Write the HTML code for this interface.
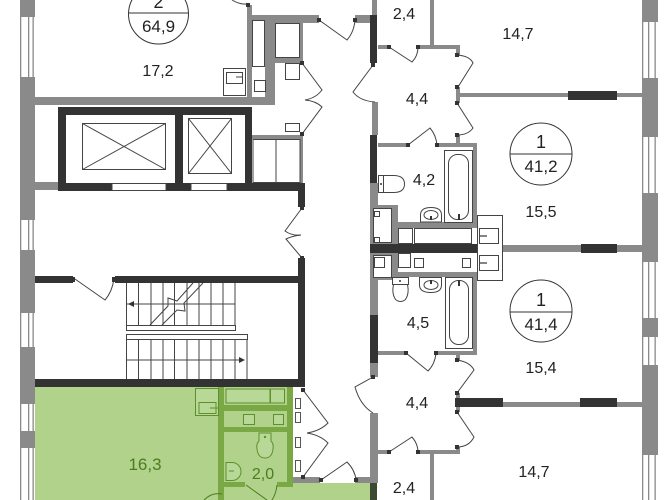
<!DOCTYPE html>
<html><head><meta charset="utf-8"><style>
html,body{margin:0;padding:0;background:#fff;}
svg{display:block;}
text{font-family:"Liberation Sans",sans-serif;}
</style></head><body>
<svg width="672" height="500" viewBox="0 0 672 500" xmlns="http://www.w3.org/2000/svg">
<rect width="672" height="500" fill="#fff"/>

<!-- GREEN APARTMENT -->
<rect x="35" y="387" width="258" height="113" fill="#b0d28a"/>
<rect x="293" y="483" width="79" height="17" fill="#b0d28a"/>
<g fill="#7aa845">
<rect x="218" y="387" width="6" height="113"/>
<rect x="224" y="405" width="64" height="6"/>
<rect x="224" y="427" width="64" height="5"/>
<rect x="287" y="387" width="6" height="98"/>
<rect x="224" y="482" width="21" height="5"/>
<rect x="277" y="482" width="16" height="5"/>
</g>
<g fill="#b8d898" stroke="#5d8f2c" stroke-width="1">
<rect x="226" y="389" width="44" height="14"/>
<rect x="270.5" y="389" width="14" height="14"/>
<rect x="243.5" y="414.5" width="11" height="10"/>
<rect x="273.5" y="414.5" width="10" height="10"/>
<rect x="195.5" y="388.5" width="23" height="27"/>
<rect x="199" y="402.5" width="17" height="11"/>
<path d="M259,433 h12 v8 q3,3 2,8 q-1,9 -8,9 q-7,0 -8,-9 q-1,-5 2,-8 z"/>
<path d="M226,462.5 h6 a9,9 0 0 1 0,18 h-6 z"/>
</g>
<circle cx="265" cy="437" r="1.2" fill="#5d8f2c"/>
<line x1="210" y1="408" x2="218" y2="408" stroke="#5d8f2c"/>
<line x1="229" y1="471" x2="234" y2="471" stroke="#5d8f2c"/>
<g fill="none" stroke="#4d7c1f" stroke-width="1">
<path d="M246,485 L267,500"/>
<path d="M277,485 Q276,494 272,500"/>
<path d="M204,500 Q212,492 222,494"/>
</g>
<text x="145" y="470" font-size="17" fill="#4d7c1f" text-anchor="middle">16,3</text>
<text x="263" y="479" font-size="16" fill="#4d7c1f" text-anchor="middle">2,0</text>

<!-- EXTERIOR LEFT WALL -->
<g fill="#8a8a8a">
<rect x="20" y="0" width="15" height="17"/>
<rect x="20" y="77" width="15" height="143"/>
<rect x="20" y="250" width="15" height="63"/>
<rect x="20" y="347" width="15" height="57"/>
<rect x="20" y="431" width="15" height="17"/>
<rect x="20" y="0" width="1.3" height="500"/>
<rect x="28" y="0" width="1.3" height="500"/>
<rect x="32.5" y="0" width="1.3" height="500"/>
</g>
<!-- EXTERIOR RIGHT WALL -->
<g fill="#8a8a8a">
<rect x="642" y="0" width="16" height="22"/>
<rect x="642" y="78" width="16" height="59"/>
<rect x="642" y="193" width="16" height="69"/>
<rect x="642" y="318" width="16" height="19"/>
<rect x="642" y="365" width="16" height="90"/>
<rect x="642" y="0" width="1.3" height="500"/>
<rect x="648" y="0" width="1.3" height="500"/>
<rect x="654.5" y="0" width="1.3" height="500"/>
</g>

<!-- TOP LEFT APARTMENT -->
<g fill="#8a8a8a">
<rect x="35" y="97" width="240" height="8"/>
<rect x="247" y="5" width="5" height="92"/>
<rect x="247" y="15" width="72" height="8"/>
<rect x="265" y="23" width="10" height="81"/>
<rect x="300" y="23" width="3" height="40"/>
<rect x="275" y="58" width="28" height="5"/>
<rect x="355" y="15" width="15" height="8"/>
<rect x="372" y="0" width="5" height="15"/>
<rect x="35" y="182" width="23" height="8"/>
<rect x="252" y="135" width="50" height="4"/>
<rect x="300" y="135" width="3" height="48"/>
</g>
<g fill="#fff" stroke="#444" stroke-width="1">
<rect x="252.5" y="20.5" width="12" height="46"/>
<rect x="223.5" y="68.5" width="22" height="27"/>
<rect x="226.5" y="72.5" width="16" height="11"/>
<rect x="254.5" y="80.5" width="11" height="11"/>
<rect x="275.5" y="23.5" width="24" height="34"/>
<rect x="285.5" y="63.5" width="14" height="16"/>
<rect x="285.5" y="123.5" width="14" height="8"/>
<rect x="253" y="139.5" width="23" height="43"/>
<rect x="276" y="139.5" width="24" height="43"/>
</g>
<line x1="236" y1="77" x2="243" y2="77" stroke="#444"/>
<circle cx="158.5" cy="14" r="30" fill="none" stroke="#333" stroke-width="1"/>
<line x1="129" y1="13" x2="188" y2="13" stroke="#333"/>
<text x="158.5" y="8" font-size="18" fill="#222" text-anchor="middle">2</text>
<text x="158.5" y="32" font-size="17" fill="#222" text-anchor="middle">64,9</text>
<text x="158" y="76" font-size="16" fill="#222" text-anchor="middle">17,2</text>

<!-- ELEVATORS -->
<g fill="#333">
<rect x="58" y="107" width="194" height="8"/>
<rect x="58" y="107" width="8" height="84"/>
<rect x="175" y="107" width="8" height="84"/>
<rect x="245" y="107" width="7" height="84"/>
<rect x="58" y="183" width="54" height="8"/>
<rect x="166" y="183" width="25" height="8"/>
<rect x="227" y="183" width="78" height="8"/>
</g>
<g fill="none" stroke="#444" stroke-width="1">
<rect x="112" y="183.5" width="54" height="7"/>
<rect x="191" y="183.5" width="36" height="7"/>
<rect x="82.5" y="123.5" width="83" height="46"/>
<path d="M82.5,123.5 L165.5,169.5 M165.5,123.5 L82.5,169.5"/>
<rect x="188.5" y="118.5" width="43" height="55"/>
<path d="M188.5,118.5 L231.5,173.5 M231.5,118.5 L188.5,173.5"/>
</g>

<!-- LOBBY / STAIRS -->
<g fill="#333">
<rect x="298" y="183" width="7" height="24"/>
<rect x="298" y="258" width="7" height="129"/>
<rect x="35" y="276" width="38" height="7"/>
<rect x="115" y="276" width="183" height="7"/>
<rect x="35" y="379" width="270" height="8"/>
</g>
<g fill="none" stroke="#444" stroke-width="1">
<path d="M75,279 L105,300 Q112,292 114,279"/>
<path d="M126.5,283 V325 M138.5,283 V325 M151,283 V325 M163,283 V325 M174.5,283 V325 M187,283 V325 M199,283 V325 M211,283 V325 M223,283 V325 M235,283 V325"/>
<line x1="126" y1="304" x2="235" y2="304"/>
<rect x="126.5" y="325.5" width="109" height="5"/>
<rect x="126.5" y="334.5" width="121" height="5"/>
<path d="M126.5,339 V379 M138.5,339 V379 M151,339 V379 M163,339 V379 M174.5,339 V379 M187,339 V379 M199,339 V379 M211,339 V379 M223,339 V379 M235,339 V379 M247,339 V379"/>
<line x1="126" y1="360" x2="243" y2="360"/>
<path d="M150,325 L168,306 L168,298 L177,301 L193,283" fill="none"/>
<path d="M162,325 L177,310 L185,311 L184,303 L203,283" fill="none"/>
</g>
<path d="M128,304 l6,-3 v6 z" fill="#333"/>
<path d="M245,360 l-6,-3 v6 z" fill="#333"/>

<!-- corridor left doors -->
<g fill="none" stroke="#444" stroke-width="1">
<path d="M302,63 L322,90 Q316,98 305,100"/>
<path d="M302,134 L322,107 Q316,101 305,100"/>
<path d="M302,208 L285,231 Q292,236 301,235"/>
<path d="M302,258 L286,239 Q292,236 301,235"/>
<path d="M319,20 L347,40 Q354,32 355,20"/>
<path d="M232,0 Q240,5 248,4"/>
</g>
<g fill="#333">
<rect x="300" y="61" width="4" height="4"/>
<rect x="300" y="132" width="4" height="4"/>
<rect x="300" y="206" width="4" height="4"/>
<rect x="300" y="256" width="4" height="4"/>
<rect x="317" y="18" width="4" height="4"/>
<rect x="353" y="18" width="4" height="4"/>
<rect x="246" y="3" width="4" height="4"/>
<rect x="71" y="277" width="4" height="5"/>
<rect x="112" y="277" width="4" height="5"/>
</g>

<!-- corridor green-side closets and doors -->
<g fill="#fff" stroke="#555" stroke-width="1">
<rect x="295.5" y="398.5" width="5" height="10"/>
<rect x="295.5" y="412.5" width="5" height="10"/>
<rect x="295.5" y="437.5" width="5" height="10"/>
<rect x="295.5" y="460.5" width="5" height="11"/>
</g>
<g fill="#8a8a8a">
<rect x="293" y="477" width="27" height="6"/>
<rect x="355" y="477" width="17" height="6"/>
<rect x="370" y="413" width="8" height="70"/>
</g>
<rect x="370" y="483" width="7" height="17" fill="#3d4a33"/>
<g fill="none" stroke="#444" stroke-width="1">
<path d="M303,390 L328,423 Q320,431 307,433"/>
<path d="M303,477 L328,443 Q320,435 307,433"/>
<path d="M321,480 L347,462 Q355,470 356,480"/>
</g>
<g fill="#333">
<rect x="301" y="388" width="4" height="4"/>
<rect x="301" y="475" width="4" height="4"/>
<rect x="319" y="478" width="4" height="4"/>
<rect x="354" y="478" width="4" height="4"/>
</g>

<!-- RIGHT SIDE : corridor right wall -->
<g fill="#8a8a8a">
<rect x="372" y="102" width="6" height="33"/>
<rect x="370" y="183" width="8" height="132"/>
<rect x="370" y="363" width="8" height="14"/>
<rect x="430" y="0" width="4" height="45"/>
<rect x="378" y="45" width="11" height="4"/>
<rect x="418" y="45" width="40" height="4"/>
<rect x="456" y="45" width="4" height="10"/>
<rect x="456" y="87" width="4" height="16"/>
<rect x="456" y="135" width="4" height="10"/>
<rect x="460" y="93" width="182" height="4"/>
<rect x="378" y="143" width="30" height="4"/>
<rect x="437" y="143" width="40" height="4"/>
<rect x="473" y="147" width="4" height="78"/>
<rect x="502" y="245" width="79" height="7"/>
<rect x="617" y="245" width="25" height="7"/>
<rect x="370" y="205" width="28" height="75"/>
<rect x="398" y="222" width="79" height="6"/>
<rect x="378" y="272" width="99" height="5"/>
<rect x="473" y="277" width="4" height="78"/>
<rect x="378" y="351" width="28" height="4"/>
<rect x="436" y="351" width="41" height="4"/>
<rect x="456" y="355" width="4" height="5"/>
<rect x="456" y="393" width="4" height="19"/>
<rect x="456" y="447" width="4" height="7"/>
<rect x="503" y="402" width="77" height="5"/>
<rect x="617" y="402" width="25" height="5"/>
<rect x="377" y="450" width="12" height="4"/>
<rect x="418" y="450" width="42" height="4"/>
<rect x="430" y="454" width="4" height="46"/>
</g>
<g fill="#333">
<rect x="370" y="15" width="7" height="48"/>
<rect x="370" y="135" width="7" height="48"/>
<rect x="370" y="315" width="8" height="48"/>
<rect x="568" y="91" width="49" height="9"/>
<rect x="370" y="244" width="132" height="9"/>
<rect x="581" y="244" width="36" height="9"/>
<rect x="455" y="398" width="48" height="9"/>
<rect x="580" y="398" width="37" height="9"/>
</g>
<!-- shaft area details -->
<g fill="#fff" stroke="#444" stroke-width="1">
<rect x="373.5" y="208.5" width="18" height="34"/>
<rect x="373.5" y="255.5" width="18" height="22"/>
<rect x="374.5" y="211.5" width="5" height="5"/>
<rect x="374.5" y="237.5" width="5" height="5"/>
<rect x="374.5" y="257.5" width="10" height="10"/>
<rect x="398.5" y="228.5" width="14" height="15"/>
<rect x="414.5" y="228.5" width="57" height="15"/>
<rect x="398.5" y="253.5" width="12" height="14"/>
<rect x="414.5" y="258.5" width="9" height="9"/>
<rect x="462.5" y="258.5" width="8" height="9"/>
<rect x="477.5" y="215.5" width="25" height="65"/>
<rect x="479.5" y="228.5" width="19" height="15"/>
<rect x="479.5" y="255.5" width="19" height="15"/>
</g>
<g stroke="#333" stroke-width="1.2">
<line x1="480" y1="236" x2="487" y2="236"/>
<line x1="480" y1="263" x2="487" y2="263"/>
</g>
<!-- bathroom fixtures upper -->
<g fill="#fff" stroke="#444" stroke-width="1">
<rect x="444.5" y="150.5" width="28" height="72"/>
<rect x="448.5" y="154.5" width="20" height="65" rx="9"/>
<path d="M420.5,222 L420.5,215 Q420.5,207.5 431,207.5 Q441.5,207.5 441.5,215 L441.5,222 Z"/>
<ellipse cx="431" cy="215" rx="7" ry="4.5"/>
<rect x="378.5" y="175.5" width="5" height="17"/>
<path d="M383.5,175.5 h10 q11,0 11,8.5 q0,8.5 -11,8.5 h-10 z"/>
<rect x="445.5" y="277.5" width="27" height="71"/>
<rect x="449.5" y="280.5" width="19" height="64" rx="9"/>
<path d="M419.5,277.5 L441.5,277.5 L441.5,285 Q441.5,292.5 431,292.5 Q419.5,292.5 419.5,285 Z"/>
<ellipse cx="431" cy="285" rx="7" ry="4.5"/>
<rect x="392.5" y="277.5" width="16" height="7"/>
<path d="M393.5,284.5 h14 q2,9 -2,15 q-5,4 -10,0 q-4,-6 -2,-15 z"/>
</g>
<g fill="#333">
<rect x="458" y="214" width="2" height="6"/>
<rect x="458" y="280" width="2" height="6"/>
<rect x="430" y="216" width="2" height="4"/>
<rect x="430" y="280" width="2" height="4"/>
<circle cx="381" cy="184" r="1"/>
<circle cx="400" cy="281" r="1"/>
</g>

<!-- right doors -->
<g fill="none" stroke="#444" stroke-width="1">
<path d="M373,65 L353,92 Q360,101 375,102"/>
<path d="M389,47 L412,62 Q418,56 418,47"/>
<path d="M457,55 Q470,56 473,63 L458,87"/>
<path d="M457,103 L473,128 Q468,135 457,135"/>
<path d="M408,145 L430,128 Q436,135 437,145"/>
<path d="M406,353 L428,371 Q435,364 436,353"/>
<path d="M373,377 L355,387 Q360,405 373,413"/>
<path d="M457,360 Q470,362 474,370 L457,393"/>
<path d="M457,412 L474,437 Q469,447 457,447"/>
<path d="M389,452 L412,437 Q418,444 418,452"/>
</g>
<g fill="#333">
<rect x="371" y="63" width="4" height="4"/>
<rect x="387" y="45" width="4" height="4"/>
<rect x="416" y="45" width="4" height="4"/>
<rect x="455" y="53" width="4" height="4"/>
<rect x="455" y="85" width="4" height="4"/>
<rect x="455" y="101" width="4" height="4"/>
<rect x="455" y="133" width="4" height="4"/>
<rect x="406" y="143" width="4" height="4"/>
<rect x="435" y="143" width="4" height="4"/>
<rect x="404" y="351" width="4" height="4"/>
<rect x="434" y="351" width="4" height="4"/>
<rect x="371" y="375" width="4" height="4"/>
<rect x="455" y="358" width="4" height="4"/>
<rect x="455" y="391" width="4" height="4"/>
<rect x="455" y="410" width="4" height="4"/>
<rect x="455" y="445" width="4" height="4"/>
<rect x="387" y="450" width="4" height="4"/>
<rect x="416" y="450" width="4" height="4"/>
</g>

<!-- circles right -->
<circle cx="541" cy="154" r="31" fill="none" stroke="#333"/>
<line x1="510" y1="154" x2="572" y2="154" stroke="#333"/>
<text x="541" y="148" font-size="18" fill="#222" text-anchor="middle">1</text>
<text x="541" y="172" font-size="17" fill="#222" text-anchor="middle">41,2</text>
<circle cx="541" cy="311" r="31" fill="none" stroke="#333"/>
<line x1="510" y1="312" x2="572" y2="312" stroke="#333"/>
<text x="541" y="306" font-size="18" fill="#222" text-anchor="middle">1</text>
<text x="541" y="330" font-size="17" fill="#222" text-anchor="middle">41,4</text>

<!-- room labels -->
<g font-size="16" fill="#222" text-anchor="middle">
<text x="404" y="19">2,4</text>
<text x="518" y="39">14,7</text>
<text x="417" y="104">4,4</text>
<text x="424" y="185">4,2</text>
<text x="541" y="217">15,5</text>
<text x="418" y="328">4,5</text>
<text x="541" y="373">15,4</text>
<text x="417" y="408">4,4</text>
<text x="534" y="477">14,7</text>
<text x="404" y="493">2,4</text>
</g>
</svg>
</body></html>
